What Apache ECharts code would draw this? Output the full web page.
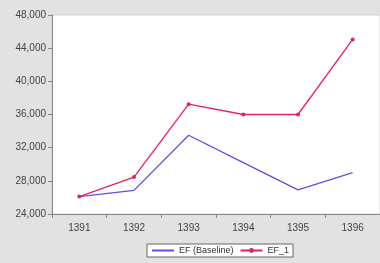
<!DOCTYPE html>
<html>
<head>
<meta charset="utf-8">
<script src="https://cdn.jsdelivr.net/npm/echarts@6/dist/echarts.min.js"></script>
<style>
html, body { margin: 0; padding: 0; background: #e2e2e2; }
#chart { width: 380px; height: 263px; }
</style>
</head>
<body>
<div id="chart"></div>
<script>
var years = ['1391', '1392', '1393', '1394', '1395', '1396']
var efBaseline = [26100, 26850, 33500, 30200, 26900, 28980]
var ef1 = [26100, 28450, 37250, 36000, 36000, 45050]
var yTicks = { min: 24000, max: 48000, step: 4000 }

var myChart = echarts.init(document.getElementById('chart'))
var option = {
	backgroundColor: '#e2e2e2',
	animation: false,
	grid: {
		left: 52,
		right: -2,
		top: 15,
		bottom: 49,
		show: true,
		backgroundColor: '#ffffff',
		borderColor: '#cfcfcf',
		borderWidth: 1
	},
	legend: {
		bottom: 6,
		left: 147,
		itemWidth: 22,
		itemHeight: 6,
		itemGap: 6,
		padding: [2, 4],
		backgroundColor: '#ffffff',
		borderColor: '#666',
		borderWidth: 1,
		borderRadius: 0,
		textStyle: { fontFamily: 'Arial, Liberation Sans', fontSize: 9, color: '#333' },
		data: [
			{ name: 'EF (Baseline)', itemStyle: { opacity: 0 } },
			{ name: 'EF_1' }
		]
	},
	xAxis: {
		type: 'category',
		data: years,
		boundaryGap: true,
		axisLine: { lineStyle: { color: '#888' } },
		axisTick: { show: true, length: 4, lineStyle: { color: '#888' } },
		axisLabel: { fontFamily: 'Arial, Liberation Sans', fontSize: 10, color: '#444', margin: 9 }
	},
	yAxis: {
		type: 'value',
		min: yTicks.min,
		max: yTicks.max,
		interval: yTicks.step,
		axisLine: { show: true, lineStyle: { color: '#888' } },
		axisTick: { show: true, length: 4, lineStyle: { color: '#888' } },
		splitLine: { show: false },
		axisLabel: {
			fontFamily: 'Arial, Liberation Sans',
			fontSize: 10,
			color: '#444',
			margin: 6,
			formatter: function (v) { return v.toLocaleString('en-US') }
		}
	},
	series: [{
		name: 'EF (Baseline)',
		type: 'line',
		data: efBaseline,
		symbol: 'none',
		lineStyle: { color: '#5a50e6', width: 1.3 },
		itemStyle: { color: '#5a50e6' }
	}, {
		name: 'EF_1',
		type: 'line',
		data: ef1,
		symbol: 'circle',
		symbolSize: 4,
		lineStyle: { color: '#e3245a', width: 1.3 },
		itemStyle: { color: '#e3245a' }
	}]
}
myChart.setOption(option)
</script>
</body>
</html>
